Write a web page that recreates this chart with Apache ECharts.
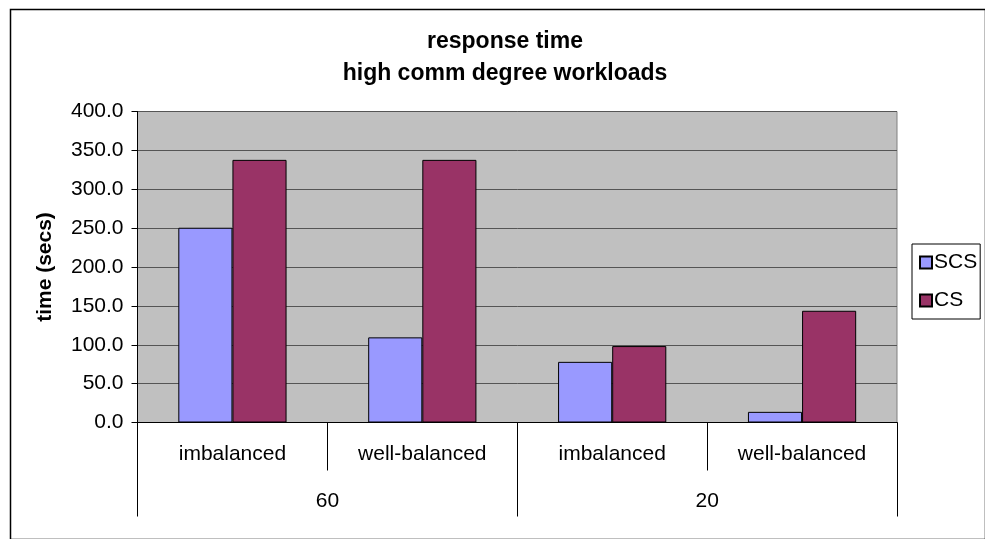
<!DOCTYPE html>
<html><head><meta charset="utf-8">
<script src="https://cdn.jsdelivr.net/npm/echarts@6/dist/echarts.min.js"></script>
<style>html,body{margin:0;padding:0;background:#fff}#c{width:985px;height:539px}</style>
</head><body><div id="c"></div>
<script>
const categories = ['imbalanced', 'well-balanced', 'imbalanced', 'well-balanced'];
const groups = ['60', '20'];
const scs = [250.5, 109.5, 78.0, 13.7];
const cs = [337.8, 337.8, 98.3, 143.7];
const yTicks = { min: 0, max: 400, interval: 50 };

const chart = echarts.init(document.getElementById('c'));
const font = 'Liberation Sans, Arial, sans-serif';
chart.setOption({
  animation: false,
  textStyle: { fontFamily: font },
  title: {
    text: 'response time\nhigh comm degree workloads',
    left: 500, top: 21, textAlign: 'center',
    textStyle: { fontFamily: font, fontSize: 23, fontWeight: 'bold', color: '#000', lineHeight: 32 }
  },
  graphic: [{
    type: 'rect', left: 8, top: 7, silent: true,
    shape: { width: 975, height: 530 },
    style: { fill: 'none', stroke: '#000', lineWidth: 1.5 }
  }],
  legend: {
    orient: 'vertical', left: 912, top: 244, padding: [8, 3, 8, 7],
    itemGap: 17, itemWidth: 12, itemHeight: 12, icon: 'rect',
    borderColor: '#000', borderWidth: 1,
    textStyle: { fontFamily: font, fontSize: 21, color: '#000', padding: [0, 0, 0, -3] },
    data: ['SCS', 'CS']
  },
  grid: {
    left: 137.5, right: 88, top: 111.5, bottom: 116.5,
    show: true, backgroundColor: '#c0c0c0', borderColor: '#808080', borderWidth: 1
  },
  xAxis: [{
    type: 'category', data: categories, position: 'bottom',
    axisLine: { lineStyle: { color: '#000' } },
    axisTick: { show: true, length: 48, lineStyle: { color: '#000' } },
    axisLabel: { margin: 21, fontSize: 21, color: '#000', fontFamily: font, interval: 0 }
  }, {
    type: 'category', data: groups, position: 'bottom',
    axisLine: { show: false },
    axisTick: { show: true, length: 94, lineStyle: { color: '#000' } },
    axisLabel: { margin: 68, fontSize: 21, color: '#000', fontFamily: font, interval: 0 }
  }],
  yAxis: {
    type: 'value', min: yTicks.min, max: yTicks.max, interval: yTicks.interval,
    name: 'time (secs)', nameLocation: 'middle', nameGap: 82, nameRotate: 90,
    nameTextStyle: { fontFamily: font, fontSize: 21, fontWeight: 'bold', color: '#000' },
    axisLine: { show: true, lineStyle: { color: '#000' } },
    axisTick: { show: true, length: 6, lineStyle: { color: '#000' } },
    axisLabel: { fontSize: 21, color: '#000', fontFamily: font, margin: 14, formatter: v => v.toFixed(1) },
    splitLine: { show: true, lineStyle: { color: '#555', width: 1 } }
  },
  series: [{
    name: 'SCS', type: 'bar', xAxisIndex: 0, data: scs, barGap: '0%', barCategoryGap: '43%',
    itemStyle: { color: '#9999ff', borderColor: '#000', borderWidth: 1 }
  }, {
    name: 'CS', type: 'bar', xAxisIndex: 0, data: cs, barGap: '0%', barCategoryGap: '43%',
    itemStyle: { color: '#993366', borderColor: '#000', borderWidth: 1 }
  }]
});
</script></body></html>
